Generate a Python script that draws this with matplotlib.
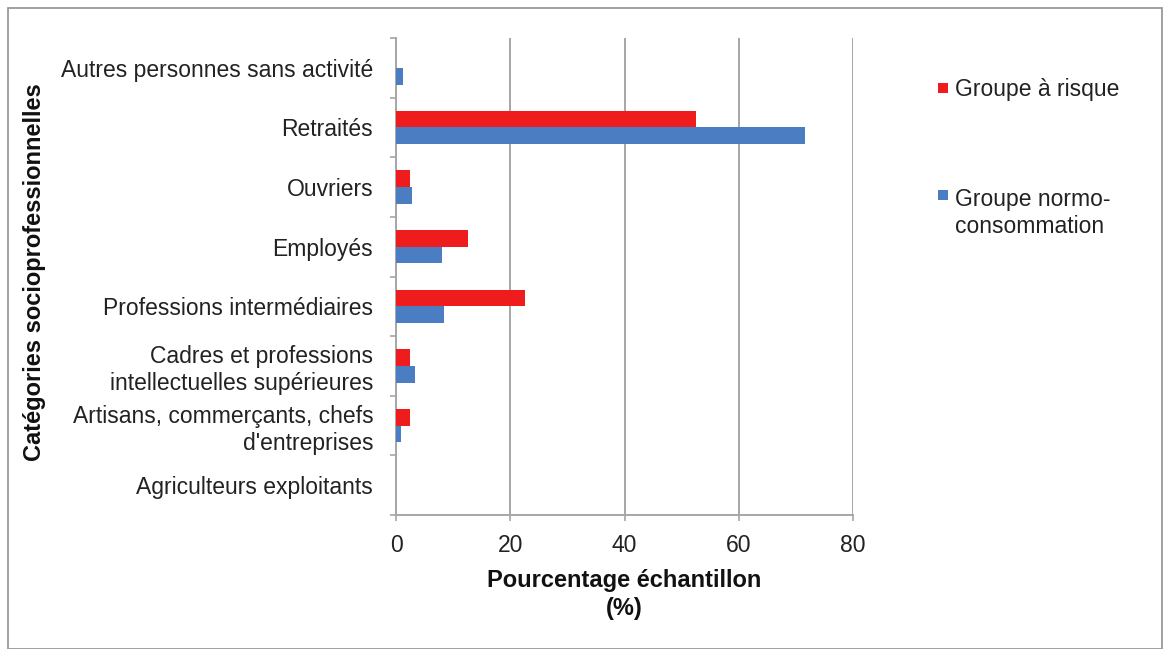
import matplotlib
matplotlib.use("Agg")
import matplotlib.pyplot as plt
from matplotlib.patches import Rectangle
import numpy as np

plt.rcParams['font.family'] = ['Liberation Sans', 'DejaVu Sans']

categories = [
    "Agriculteurs exploitants",
    "Artisans, commerçants, chefs\nd'entreprises",
    "Cadres et professions\nintellectuelles supérieures",
    "Professions intermédiaires",
    "Employés",
    "Ouvriers",
    "Retraités",
    "Autres personnes sans activité",
]
risque = [0.0, 2.4, 2.4, 22.5, 12.6, 2.4, 52.5, 0.0]
normo = [0.0, 0.8, 3.4, 8.4, 8.0, 2.8, 71.6, 1.3]
series_labels = ["Groupe à risque", "Groupe normo-\nconsommation"]
xticks = [0, 20, 40, 60, 80]

red = "#EE1C1C"
blue = "#4A7DC2"
grid_col = "#A6A6A6"
text_col = "#222222"
fs = 16.5

fig = plt.figure(figsize=(11.69, 6.49), dpi=100)
ax = fig.add_axes([0.3388, 0.2065, 0.3909, 0.7349])

y = np.arange(len(categories))
h = 0.28
ax.barh(y + h / 2, risque, height=h, color=red, zorder=3)
ax.barh(y - h / 2, normo, height=h, color=blue, zorder=3)

ax.set_xlim(0, 80)
ax.set_ylim(-0.5, len(categories) - 0.5)
ax.set_xticks(xticks)
ax.set_xticklabels([str(v) for v in xticks], fontsize=fs, color=text_col)
ax.tick_params(axis="x", length=4, width=1.2, color=grid_col, pad=10)

# category labels at centres, tick marks at category boundaries
ax.set_yticks(y)
ax.set_yticklabels(categories, fontsize=fs, color=text_col, ha="right",
                   multialignment="right", linespacing=1.2)
ax.tick_params(axis="y", which="major", length=0, pad=16.5)
ax.set_yticks(np.arange(len(categories) + 1) - 0.5, minor=True)
ax.tick_params(axis="y", which="minor", length=4, width=1.2, color=grid_col)

ax.grid(axis="x", color=grid_col, linewidth=1.4, zorder=0)
for s in ["top", "right"]:
    ax.spines[s].set_visible(False)
for s in ["left", "bottom"]:
    ax.spines[s].set_color(grid_col)
    ax.spines[s].set_linewidth(1.4)

ax.set_xlabel("Pourcentage échantillon\n(%)", fontsize=17, fontweight="bold",
              labelpad=8, color="#111111", linespacing=1.3)
ax.set_ylabel("Catégories socioprofessionnelles", fontsize=17, fontweight="bold",
              color="#111111")
ax.yaxis.set_label_coords(-0.765, 0.51)

# legend entries: square marker aligned with the first line of each label
W, H = 1169, 649
legend_rows = [(red, 88, 78), (blue, 195, 188)]
for (col, ypx, text_top), lab in zip(legend_rows, series_labels):
    fig.patches.append(Rectangle((938 / W, 1 - (ypx + 5) / H), 10 / W, 10 / H,
                                 transform=fig.transFigure, facecolor=col,
                                 edgecolor="none"))
    fig.text(955 / W, 1 - text_top / H, lab, fontsize=fs, color=text_col,
             ha="left", va="top", linespacing=1.2)

fig.patches.append(Rectangle((8 / W, 0.0), (1162 - 8) / W, (H - 8) / H,
                             transform=fig.transFigure, fill=False,
                             edgecolor="#9A9A9A", linewidth=1.3))

fig.savefig("out.png", dpi=100, facecolor="white")
